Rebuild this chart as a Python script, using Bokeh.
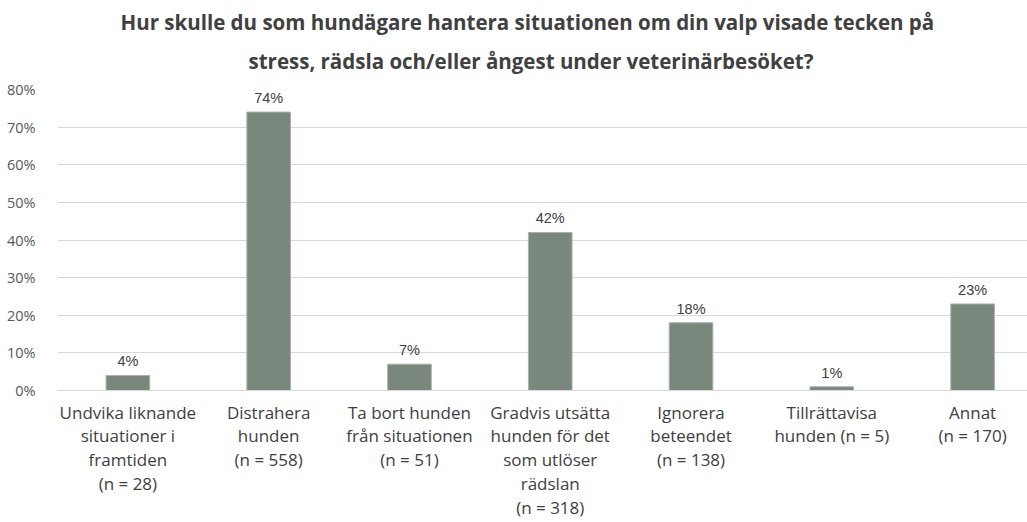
from bokeh.plotting import figure
from bokeh.models import Title, FixedTicker, NumeralTickFormatter, Range1d, ColumnDataSource
from bokeh.core.properties import value
from bokeh.embed import file_html
from bokeh.resources import INLINE

categories = [
    "Undvika liknande\nsituationer i\nframtiden\n(n = 28)",
    "Distrahera\nhunden\n(n = 558)",
    "Ta bort hunden\nfrån situationen\n(n = 51)",
    "Gradvis utsätta\nhunden för det\nsom utlöser\nrädslan\n(n = 318)",
    "Ignorera\nbeteendet\n(n = 138)",
    "Tillrättavisa\nhunden (n = 5)",
    "Annat\n(n = 170)",
]
values = [0.04, 0.74, 0.07, 0.42, 0.18, 0.01, 0.23]
value_labels = ["4%", "74%", "7%", "42%", "18%", "1%", "23%"]
y_ticks = [0, 0.1, 0.2, 0.3, 0.4, 0.5, 0.6, 0.7, 0.8]

xs = list(range(len(categories)))
src = ColumnDataSource(dict(x=xs, top=values, lab=value_labels))

W, H = 1027, 522
p = figure(width=W, height=H, output_backend="svg", toolbar_location=None,
           x_range=Range1d(-0.5, 6.39), y_range=Range1d(0, 0.8))
p.min_border_left = 57
p.min_border_right = 0
p.min_border_top = 89
p.min_border_bottom = 131
p.outline_line_color = None
p.background_fill_color = "white"

t2 = Title(text="stress, rädsla och/eller ångest under veterinärbesöket?", align="left",
           text_font="Open Sans", text_font_size="20.5px", text_font_style="bold",
           text_color="#404040", standoff=29, offset=191)
t1 = Title(text="Hur skulle du som hundägare hantera situationen om din valp visade tecken på",
           align="left", text_font="Open Sans", text_font_size="20.5px",
           text_font_style="bold", text_color="#404040", standoff=-10, offset=63)
p.add_layout(t2, "above")
p.add_layout(t1, "above")

p.vbar(x="x", top="top", width=0.31, bottom=0, source=src,
       fill_color="#7a877c", line_color="#aab3ac", line_width=1)
p.text(x="x", y="top", text="lab", source=src, text_align="center",
       text_baseline="bottom", y_offset=-6, text_font=value("Liberation Sans"),
       text_font_size="14.5px", text_color="#404040")

p.xaxis.ticker = FixedTicker(ticks=xs)
p.xaxis.major_label_overrides = {i: c for i, c in enumerate(categories)}
p.xaxis.axis_line_color = "#d9d9d9"
p.xaxis.major_tick_line_color = None
p.xaxis.minor_tick_line_color = None
p.xaxis.major_label_text_font = "Open Sans"
p.xaxis.major_label_text_font_size = "17px"
p.xaxis.major_label_text_color = "#404040"
p.xaxis.major_label_text_line_height = 1.04
p.xaxis.major_label_standoff = 4

p.yaxis.ticker = FixedTicker(ticks=y_ticks)
p.yaxis.formatter = NumeralTickFormatter(format="0%")
p.yaxis.axis_line_color = None
p.yaxis.major_tick_line_color = None
p.yaxis.minor_tick_line_color = None
p.yaxis.major_label_text_font = "Open Sans"
p.yaxis.major_label_text_font_size = "14.5px"
p.yaxis.major_label_text_color = "#595959"
p.yaxis.major_label_standoff = 16

p.xgrid.grid_line_color = None
p.ygrid.grid_line_color = "#d9d9d9"
p.ygrid.grid_line_width = 1

open("out.html", "w").write(file_html(p, INLINE))
